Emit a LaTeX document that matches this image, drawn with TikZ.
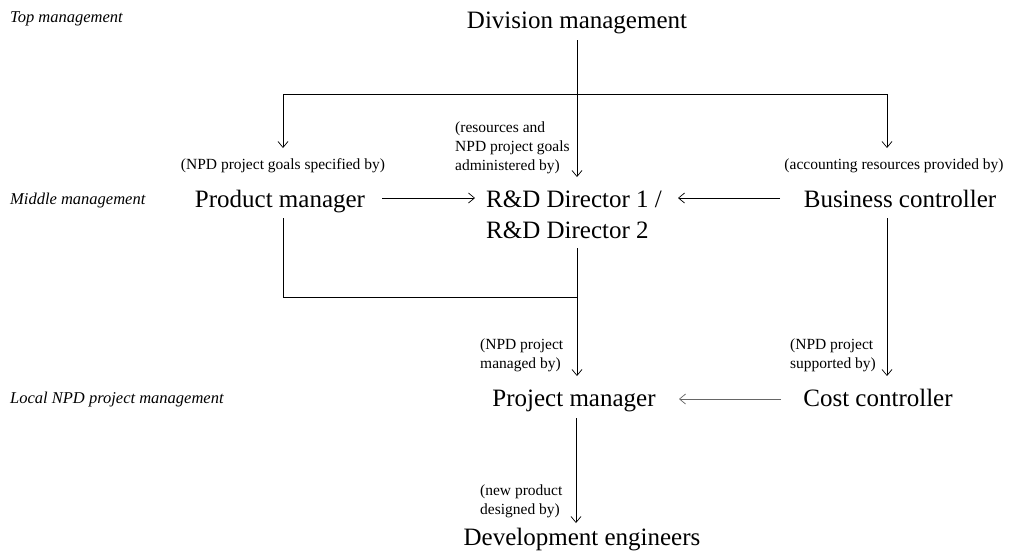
\documentclass[tikz,border=0pt]{standalone}
\usepackage{fontspec}
\setmainfont{Liberation Serif}
\usetikzlibrary{arrows.meta}
\begin{document}
\begin{tikzpicture}[x=1pt,y=-1pt,
  big/.style={font=\fontsize{25}{31}\selectfont, inner sep=0pt, anchor=base},
  small/.style={font=\fontsize{15.5}{19}\selectfont, inner sep=0pt, anchor=base},
  lvl/.style={font=\fontsize{16.5}{20}\selectfont\itshape, inner sep=0pt, anchor=base west},
  conn/.style={line width=0.7pt},
  arr/.style={conn, -{Straight Barb[length=6pt,width=10pt,line width=0.7pt]}}]
\useasboundingbox (0,0) rectangle (1010,558);

% level labels
\node[lvl] (ltop) at (10,22) {Top management};
\node[lvl] (lmid) at (10,204) {Middle management};
\node[lvl] (lloc) at (10,403) {Local NPD project management};

% main nodes (multi-line nodes: base = baseline of last line)
\node[big] (div) at (577,28) {Division management};
\node[big] (pm) at (280,207) {Product manager};
\node[big, align=left, anchor=base west] (rd) at (486,238) {R\&D Director 1 /\\R\&D Director 2};
\node[big] (bc) at (900,207) {Business controller};
\node[big] (proj) at (574,406) {Project manager};
\node[big] (cc) at (878,406) {Cost controller};
\node[big] (dev) at (582,545) {Development engineers};

% small labels
\node[small] (lpm) at (283,169) {(NPD project goals specified by)};
\node[small, align=left, anchor=base west] (lrd) at (455,170) {(resources and\\NPD project goals\\administered by)};
\node[small] (lbc) at (894,169) {(accounting resources provided by)};
\node[small, align=left, anchor=base west] (lproj) at (480,368) {(NPD project\\managed by)};
\node[small, align=left, anchor=base west] (lcc) at (790,368) {(NPD project\\supported by)};
\node[small, align=left, anchor=base west] (ldev) at (480,514) {(new product\\designed by)};

% connector points
\coordinate (d0) at (577,40);
\coordinate (d1) at (577,177);
\coordinate (h0) at (283,94);
\coordinate (h1) at (887,94);
\coordinate (t0) at (283,148);
\coordinate (t1) at (887,148);
\coordinate (a0) at (382,198);
\coordinate (a1) at (475,198);
\coordinate (b0) at (780,198);
\coordinate (b1) at (678,198);
\coordinate (p0) at (283,218);
\coordinate (p1) at (283,297);
\coordinate (r0) at (577,248);
\coordinate (r1) at (577,297);
\coordinate (r2) at (577,376);
\coordinate (c0) at (887,218);
\coordinate (c1) at (887,376);
\coordinate (e0) at (781,399);
\coordinate (e1) at (679,399);
\coordinate (f0) at (576,418);
\coordinate (f1) at (576,523);

% connectors
\draw[arr] (d0) -- (d1);
\draw[conn] (h0) -- (h1);
\draw[arr] (h0) -- (t0);
\draw[arr] (h1) -- (t1);
\draw[arr] (a0) -- (a1);
\draw[arr] (b0) -- (b1);
\draw[conn] (p0) -- (p1) -- (r1);
\draw[arr] (r0) -- (r2);
\draw[arr] (c0) -- (c1);
\draw[arr, draw=black!60] (e0) -- (e1);
\draw[arr] (f0) -- (f1);
\end{tikzpicture}
\end{document}
